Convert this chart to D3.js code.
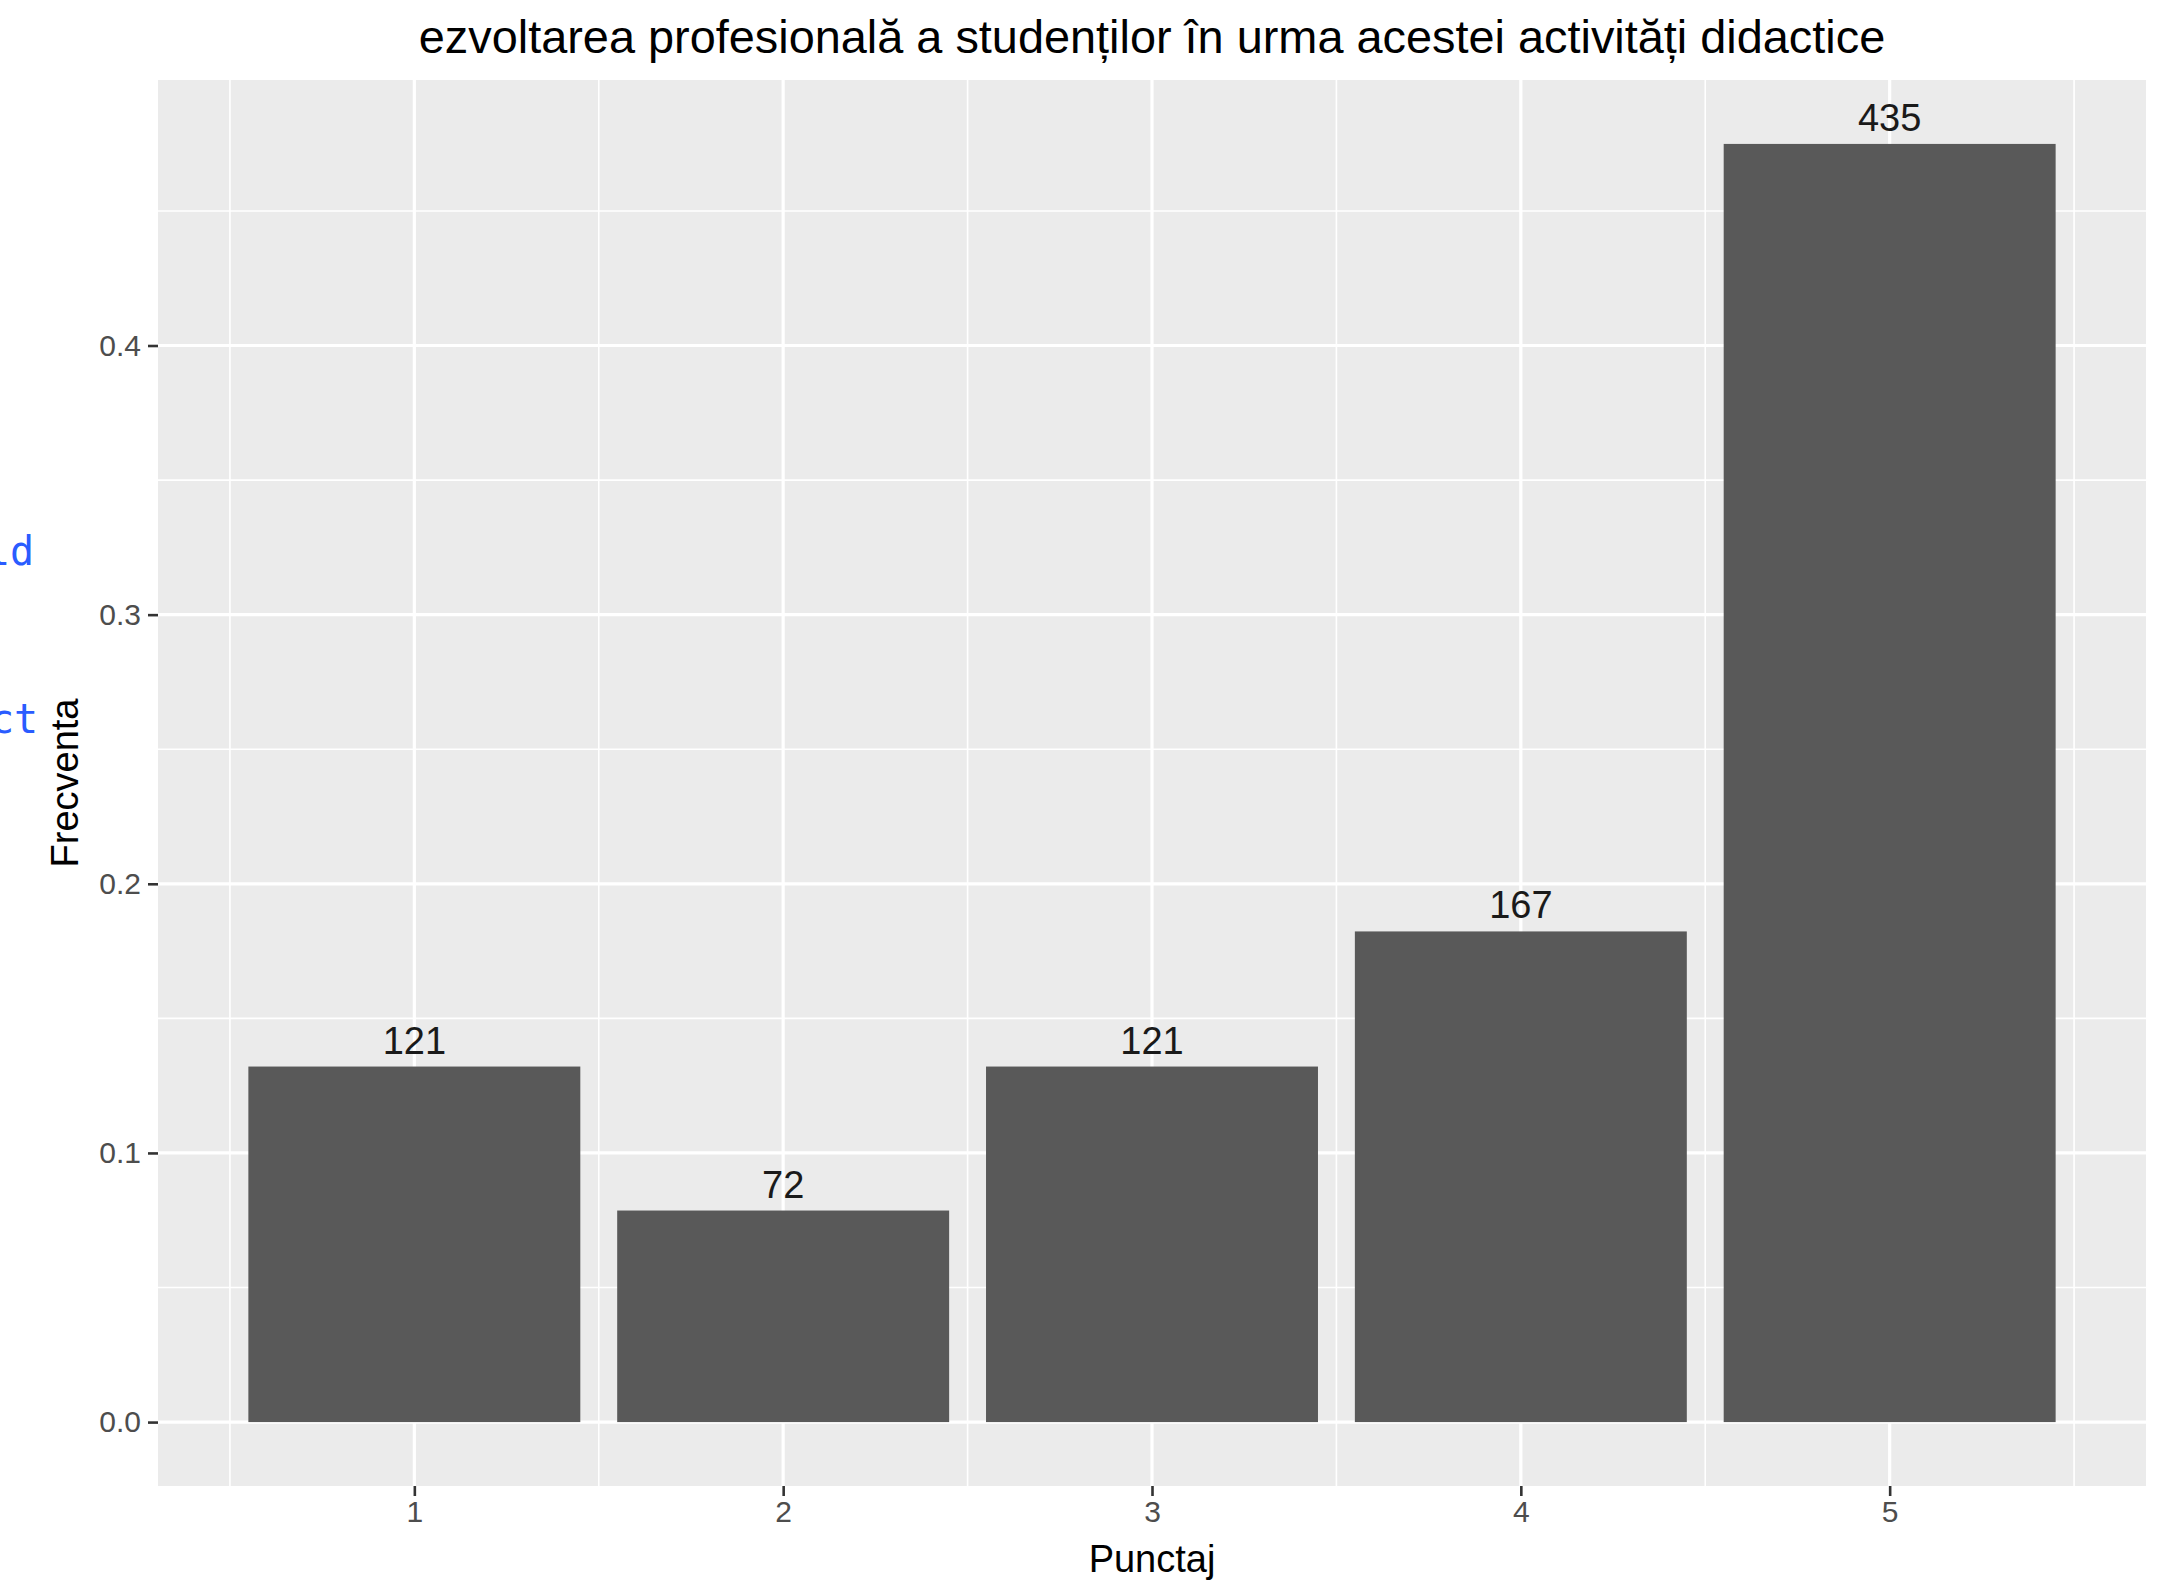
<!DOCTYPE html>
<html>
<head>
<meta charset="utf-8">
<script src="https://cdn.jsdelivr.net/npm/d3@7"></script>
<style>
  html, body { margin: 0; padding: 0; background: #ffffff; }
  svg { display: block; }
</style>
</head>
<body>
<script>
// ---- data ----
const categories = [1, 2, 3, 4, 5];
const counts = [121, 72, 121, 167, 435];
const frequencies = [0.1321, 0.0786, 0.1321, 0.1823, 0.4749];
const yTicks = [0, 0.1, 0.2, 0.3, 0.4];
const yMinorTicks = [0.05, 0.15, 0.25, 0.35, 0.45];
const xMinorTicks = [0.5, 1.5, 2.5, 3.5, 4.5, 5.5];
const titleText = "ezvoltarea profesională a studenților în urma acestei activități didactice";
const xTitle = "Punctaj";
const yTitle = "Frecventa";
const codeFragments = ["ld", "ct"];

// ---- layout ----
const W = 2157, H = 1585;
const panel = { left: 158, right: 2146, top: 80, bottom: 1486 };
const font = "'Liberation Sans', Arial, Helvetica, sans-serif";

const svg = d3.select("body").append("svg").attr("width", W).attr("height", H);

const x = d3.scaleLinear().domain([0.305, 5.695]).range([panel.left, panel.right]);
const y = d3.scaleLinear().domain([-0.02375, 0.49865]).range([panel.bottom, panel.top]);
const barWidth = 0.9;

// panel background
svg.append("rect")
  .attr("x", panel.left).attr("y", panel.top)
  .attr("width", panel.right - panel.left).attr("height", panel.bottom - panel.top)
  .attr("fill", "#EBEBEB");

const grid = svg.append("g");
// minor grid
grid.selectAll("line.ymin").data(yMinorTicks).enter().append("line")
  .attr("x1", panel.left).attr("x2", panel.right)
  .attr("y1", d => y(d)).attr("y2", d => y(d))
  .attr("stroke", "#ffffff").attr("stroke-width", 1.6);
grid.selectAll("line.xmin").data(xMinorTicks).enter().append("line")
  .attr("y1", panel.top).attr("y2", panel.bottom)
  .attr("x1", d => x(d)).attr("x2", d => x(d))
  .attr("stroke", "#ffffff").attr("stroke-width", 1.6);
// major grid
grid.selectAll("line.ymaj").data(yTicks).enter().append("line")
  .attr("x1", panel.left).attr("x2", panel.right)
  .attr("y1", d => y(d)).attr("y2", d => y(d))
  .attr("stroke", "#ffffff").attr("stroke-width", 3.2);
grid.selectAll("line.xmaj").data(categories).enter().append("line")
  .attr("y1", panel.top).attr("y2", panel.bottom)
  .attr("x1", d => x(d)).attr("x2", d => x(d))
  .attr("stroke", "#ffffff").attr("stroke-width", 3.2);

// bars
svg.append("g").selectAll("rect").data(categories).enter().append("rect")
  .attr("x", d => x(d - barWidth / 2))
  .attr("width", d => x(d + barWidth / 2) - x(d - barWidth / 2))
  .attr("y", (d, i) => y(frequencies[i]))
  .attr("height", (d, i) => y(0) - y(frequencies[i]))
  .attr("fill", "#595959");

// bar labels
svg.append("g").selectAll("text").data(categories).enter().append("text")
  .attr("x", d => x(d))
  .attr("y", (d, i) => y(frequencies[i]) - 13)
  .attr("text-anchor", "middle")
  .attr("font-family", font).attr("font-size", 38)
  .attr("fill", "#1a1a1a")
  .text((d, i) => counts[i]);

// axes
const yAxis = d3.axisLeft(y).tickValues(yTicks).tickFormat(d3.format(".1f")).tickSize(10).tickPadding(7);
const gy = svg.append("g").attr("transform", `translate(${panel.left},0)`).call(yAxis);
const xAxis = d3.axisBottom(x).tickValues(categories).tickFormat(d3.format("d")).tickSize(10).tickPadding(5);
const gx = svg.append("g").attr("transform", `translate(0,${panel.bottom})`).call(xAxis);
[gy, gx].forEach(g => {
  g.select(".domain").remove();
  g.selectAll(".tick line").attr("stroke", "#333333").attr("stroke-width", 2.6);
  g.selectAll(".tick text").attr("fill", "#4D4D4D").attr("font-family", font).attr("font-size", 30);
});

// axis titles
svg.append("text")
  .attr("x", (panel.left + panel.right) / 2).attr("y", 1572)
  .attr("text-anchor", "middle")
  .attr("font-family", font).attr("font-size", 38).attr("fill", "#000000")
  .text(xTitle);
svg.append("text")
  .attr("transform", `translate(78,${(panel.top + panel.bottom) / 2}) rotate(-90)`)
  .attr("text-anchor", "middle")
  .attr("font-family", font).attr("font-size", 38).attr("fill", "#000000")
  .text(yTitle);

// title
const title = svg.append("text")
  .attr("x", (panel.left + panel.right) / 2).attr("y", 53)
  .attr("text-anchor", "middle")
  .attr("font-family", font).attr("font-size", 46).attr("fill", "#000000")
  .text(titleText);
// fit title width to reference span (~1467px)
const tl = title.node().getComputedTextLength();
if (tl > 0) title.attr("font-size", 46 * 1467 / tl);

// clipped code fragments at left edge (background editor text)
svg.append("text").attr("x", -14).attr("y", 565)
  .attr("font-family", "'DejaVu Sans Mono', monospace").attr("font-size", 40)
  .attr("fill", "#2A5CFF").text(codeFragments[0]);
svg.append("text").attr("x", -10).attr("y", 733)
  .attr("font-family", "'DejaVu Sans Mono', monospace").attr("font-size", 40)
  .attr("fill", "#2A5CFF").text(codeFragments[1]);
</script>
</body>
</html>
